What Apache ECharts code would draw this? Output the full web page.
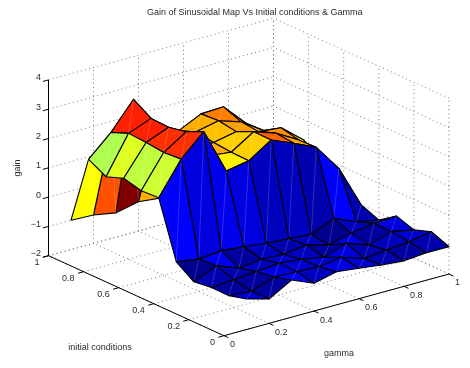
<!DOCTYPE html>
<html><head><meta charset="utf-8">
<style>html,body{margin:0;padding:0;background:#fff}#c{width:470px;height:368px}</style>
<script src="https://cdn.jsdelivr.net/npm/echarts@6/dist/echarts.min.js"></script>
</head><body><div id="c"></div>
<script>
var titleText = 'Gain of Sinusoidal Map Vs Initial conditions & Gamma';
var gammaValues = [0.1,0.2,0.3,0.4,0.5,0.6,0.7,0.8,0.9,1];
var icValues = [0,0.1,0.2,0.3,0.4,0.5,0.6,0.7,0.8,0.9,1];
var gainIc00 = [-0.96,-1.17,-0.73,-1.05,-0.87,-0.96,-1.06,-1.13,-1.06,-1.07];
var gainIc01 = [-1.12,-1.18,-0.91,-0.93,-0.97,-0.86,-1.11,-1.03,-0.96,-0.83];
var gainIc02 = [-1.11,-1.06,-0.99,-0.92,-0.99,-1.13,-0.87,-1.14,-0.89,-1.04];
var gainIc03 = [-1.19,-0.85,-1.15,-1.05,-1.1,-0.99,-1.2,-1.01,-0.88,-0.84];
var gainIc04 = [-0.78,-0.9,-0.82,-0.9,-0.99,-1.05,-1.11,-0.77,-1.1,-1.25];
var gainIc05 = [1.13,2.24,2.97,1.41,1.55,2.05,1.73,1.38,0.45,-1.01];
var gainIc06 = [1.1,2.19,2.69,1.66,1.57,2.06,1.8,1.36,0.46,-1.11];
var gainIc07 = [1.25,2.26,2.57,1.57,1.63,1.79,1.58,1.5,0.87,-0.7];
var gainIc08 = [1.03,2.3,2.6,1.82,1.72,1.89,1.64,1.13,0.6,-0.46];
var gainIc09 = [1.35,2.06,2.98,1.72,1.48,1.85,1.88,1.11,0.5,-0.57];
var gainIc10 = [-1.0,-1.03,-1.17,-1.0,-1.08,-1.0,-1.0,-1.0,-1.0,-1.0];
var gain = [gainIc00,gainIc01,gainIc02,gainIc03,gainIc04,gainIc05,gainIc06,gainIc07,gainIc08,gainIc09,gainIc10];
var gammaTicks = [0,0.2,0.4,0.6,0.8,1];
var gammaTickLabels = ['0','0.2','0.4','0.6','0.8','1'];
var icTicks = [0,0.2,0.4,0.6,0.8,1];
var icTickLabels = ['0','0.2','0.4','0.6','0.8','1'];
var gainTicks = [-2,-1,0,1,2,3,4];
var gainTickLabels = ['\u22122','\u22121','0','1','2','3','4'];

// orthographic view of the MATLAB axes box
function project(g,i,z){
  return [224 + 225*g - 175.5*i, 335.7 - 61.7*g - 80*i - 29.3*(z+2)];
}
var all = [].concat.apply([],gain);
var cMin = Math.min.apply(null,all), cMax = Math.max.apply(null,all);
function clamp(v){return Math.max(0,Math.min(1,v));}
function jet(v){
  var idx = Math.min(63,Math.floor((v-cMin)/(cMax-cMin)*64));
  var x = (idx+1)/64;
  var r = clamp(Math.min(4*x-1.5,-4*x+4.5)), g = clamp(Math.min(4*x-0.5,-4*x+3.5)), b = clamp(Math.min(4*x+0.5,-4*x+2.5));
  return 'rgb('+Math.round(r*255)+','+Math.round(g*255)+','+Math.round(b*255)+')';
}
var faces = [];
for (var ii=icValues.length-2; ii>=0; ii--) for (var gi=gammaValues.length-2; gi>=0; gi--) faces.push([gi,ii]);

var gridLines = [];
gainTicks.forEach(function(z){ gridLines.push([0,1,z,1,1,z]); gridLines.push([1,0,z,1,1,z]); });
gammaTicks.forEach(function(g){ gridLines.push([g,1,-2,g,1,4]); gridLines.push([g,0,-2,g,1,-2]); });
icTicks.forEach(function(i){ gridLines.push([1,i,-2,1,i,4]); gridLines.push([0,i,-2,1,i,-2]); });

var tickLen = 0.025;
var axisLines = [[0,1,-2,0,1,4],[0,0,-2,0,1,-2],[0,0,-2,1,0,-2]];
gainTicks.forEach(function(z){ axisLines.push([0,1,z,-tickLen,1,z]); });
gammaTicks.forEach(function(g){ axisLines.push([g,0,-2,g,-tickLen,-2]); });
icTicks.forEach(function(i){ axisLines.push([0,i,-2,-tickLen,i,-2]); });

var labels = [];
gammaTicks.forEach(function(g,k){ labels.push([g,0,-2,6,9,'left',gammaTickLabels[k]]); });
icTicks.forEach(function(i,k){ labels.push([0,i,-2,-9,7,'right',icTickLabels[k]]); });
gainTicks.forEach(function(z,k){ labels.push([0,1,z,-7.5,-2,'right',gainTickLabels[k]]); });

var textColor = '#2a2a2a', fontFamily = '"Liberation Sans", Arial, sans-serif';
function lineSeries(data, style, z){
  return {type:'custom',coordinateSystem:'cartesian2d',silent:true,clip:false,z:z,data:data,encode:{x:0,y:1},
    renderItem:function(p,api){
      var a = api.coord(project(api.value(0),api.value(1),api.value(2)));
      var b = api.coord(project(api.value(3),api.value(4),api.value(5)));
      return {type:'line',shape:{x1:a[0],y1:a[1],x2:b[0],y2:b[1]},style:style};
    }};
}
var chart = echarts.init(document.getElementById('c'),null,{renderer:'canvas'});
chart.setOption({
  animation:false,
  backgroundColor:'#fff',
  title:{text:titleText,left:142,top:3,textStyle:{fontSize:9,fontWeight:'normal',color:textColor,fontFamily:fontFamily}},
  grid:{left:0,right:0,top:0,bottom:0},
  xAxis:{type:'value',min:0,max:470,show:false},
  yAxis:{type:'value',min:0,max:368,inverse:true,show:false},
  series:[
    lineSeries(gridLines,{stroke:'#6a6a6a',lineWidth:0.9,lineDash:[1,3.2]},1),
    lineSeries(axisLines,{stroke:'#000',lineWidth:1},2),
    {type:'custom',coordinateSystem:'cartesian2d',silent:true,clip:false,z:3,data:faces,encode:{x:0,y:1},
      renderItem:function(p,api){
        var gi=api.value(0), ii=api.value(1);
        var corners=[[gi,ii],[gi+1,ii],[gi+1,ii+1],[gi,ii+1]].map(function(c){
          return api.coord(project(gammaValues[c[0]],icValues[c[1]],gain[c[1]][c[0]]));
        });
        return {type:'group',children:[
          {type:'polygon',shape:{points:corners},style:{fill:jet(gain[ii][gi]),stroke:'#000',lineWidth:1.1,lineJoin:'round'}},
          {type:'line',shape:{x1:corners[0][0],y1:corners[0][1],x2:corners[2][0],y2:corners[2][1]},style:{stroke:'rgba(255,255,255,0.22)',lineWidth:0.8}}
        ]};
      }},
    {type:'custom',coordinateSystem:'cartesian2d',silent:true,clip:false,z:4,data:labels,encode:{x:0,y:1},
      dimensions:['g','i','z','dx','dy',{name:'align',type:'ordinal'},{name:'text',type:'ordinal'}],
      renderItem:function(p,api){
        var d=labels[p.dataIndex];
        var a=api.coord(project(d[0],d[1],d[2]));
        return {type:'text',x:a[0]+d[3],y:a[1]+d[4],style:{text:d[6],align:d[5],verticalAlign:'middle',fontSize:9,fontFamily:fontFamily,fill:textColor}};
      }}
  ],
  graphic:[
    {type:'text',x:100,y:348,style:{text:'initial conditions',align:'center',verticalAlign:'middle',fontSize:9,fontFamily:fontFamily,fill:textColor}},
    {type:'text',x:339,y:354,style:{text:'gamma',align:'center',verticalAlign:'middle',fontSize:9,fontFamily:fontFamily,fill:textColor}},
    {type:'text',x:18,y:168,rotation:Math.PI/2,style:{text:'gain',align:'center',verticalAlign:'middle',fontSize:9,fontFamily:fontFamily,fill:textColor}}
  ]
});
</script></body></html>
